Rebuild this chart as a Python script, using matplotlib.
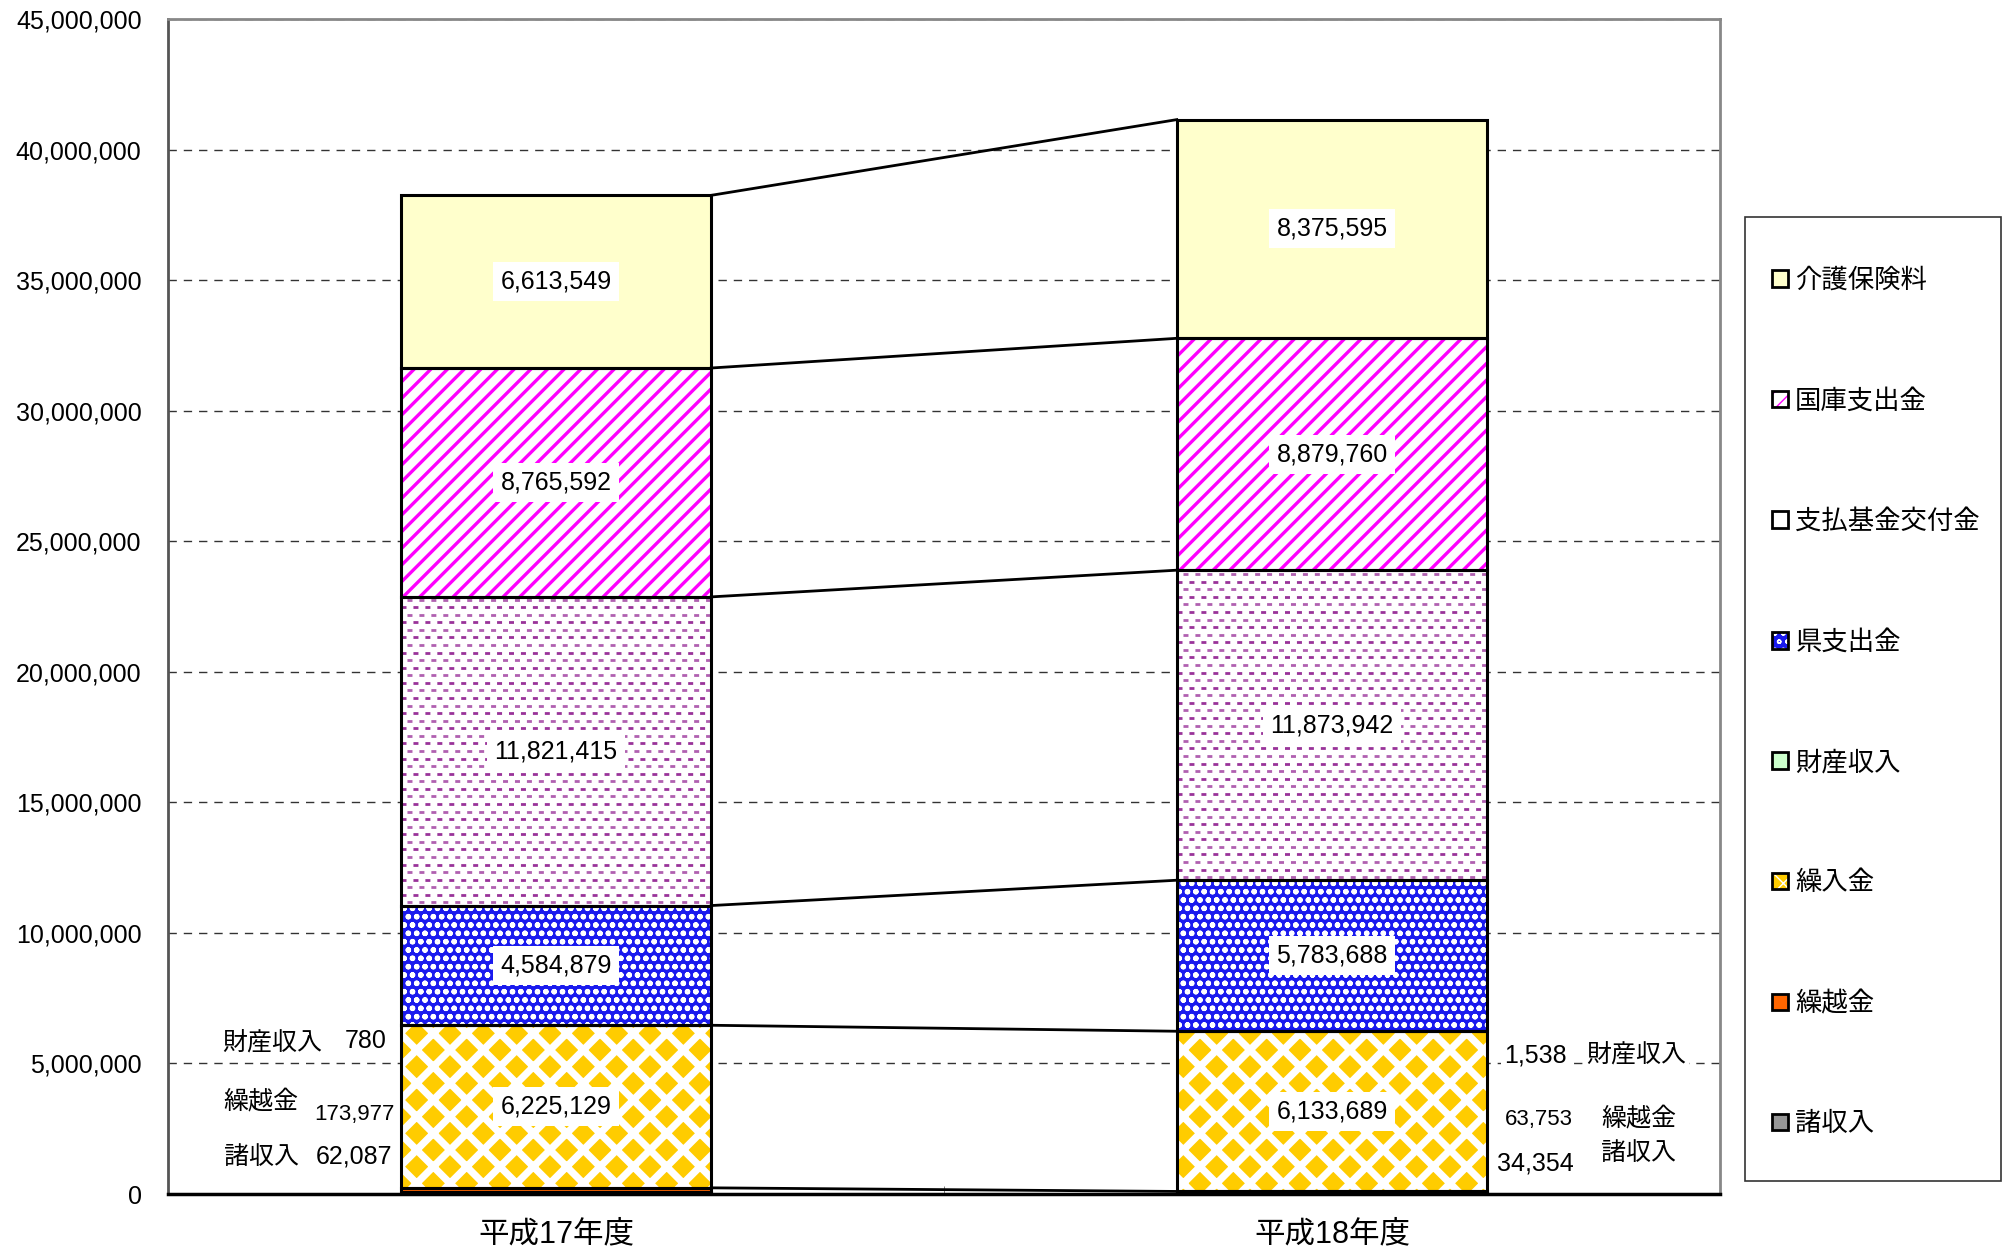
import matplotlib
matplotlib.use('Agg')
import matplotlib.pyplot as plt
from matplotlib.patches import Patch, Rectangle
from matplotlib.legend_handler import HandlerTuple
from matplotlib.ticker import FuncFormatter, FixedLocator

plt.rcParams['font.family'] = ['Liberation Sans', 'Noto Sans CJK JP', 'DejaVu Sans']
plt.rcParams['lines.scale_dashes'] = False

years = ['平成17年度', '平成18年度']
# bottom -> top
series = ['諸収入', '繰越金', '繰入金', '財産収入', '県支出金', '支払基金交付金', '国庫支出金', '介護保険料']
h17 = [62087, 173977, 6225129, 780, 4584879, 11821415, 8765592, 6613549]
h18 = [34354, 63753, 6133689, 1538, 5783688, 11873942, 8879760, 8375595]

# face, hatch, hatch colour
styles = {
    '諸収入': ('#969696', None, None),
    '繰越金': ('#ff6600', None, None),
    '繰入金': ('#ffcc00', 'x', 'white'),
    '財産収入': ('#ccffcc', None, None),
    '県支出金': ('#1a1aee', 'oo', 'white'),
    '支払基金交付金': ('white', None, None),
    '国庫支出金': ('white', '//', '#ff00ff'),
    '介護保険料': ('#ffffcc', None, None),
}
hatch_lw = {'繰入金': 5.2, '県支出金': 1.6, '国庫支出金': 2.4}
labelled = ['繰入金', '県支出金', '支払基金交付金', '国庫支出金', '介護保険料']

fig = plt.figure(figsize=(20.15, 12.51), dpi=100)
ax = fig.add_axes([168 / 2015, 1 - 1194 / 1251, (1720 - 168) / 2015, (1194 - 19) / 1251])

x = [0, 1]
w = 0.4
bottoms = [0, 0]
tops = []
handles = {}
for i, name in enumerate(series):
    vals = [h17[i], h18[i]]
    face, hatch, hcol = styles[name]
    fill = ax.bar(x, vals, w, bottom=bottoms, color=face, hatch=hatch,
                  edgecolor=hcol if hatch else face, linewidth=0, zorder=2)
    if hatch:
        for p in fill:
            p.set_hatch_linewidth(hatch_lw[name])
    ax.bar(x, vals, w, bottom=bottoms, fill=False, edgecolor='black', linewidth=2.2, zorder=4)
    hp = Patch(facecolor=face, hatch=hatch, edgecolor=hcol if hatch else face, linewidth=0)
    if hatch:
        hp.set_hatch_linewidth(1.5)
    handles[name] = (hp, Patch(fill=False, edgecolor='black', linewidth=2))
    if name == '支払基金交付金':
        # dashed purple rows
        for j in range(2):
            y = bottoms[j] + 120000
            k = 0
            while y < bottoms[j] + vals[j] - 100000:
                ax.hlines(y, x[j] - w / 2, x[j] + w / 2, colors='#993399' if k % 2 else '#b060b0',
                          linewidth=2, linestyles=[(0 if k % 2 else 4.3, (3.6, 5.0))], zorder=3)
                y += 290000
                k += 1
    if name in labelled:
        for j in range(2):
            ax.text(x[j], bottoms[j] + vals[j] / 2, f'{vals[j]:,}', ha='center', va='center',
                    fontsize=18, zorder=6,
                    bbox=dict(boxstyle='square,pad=0.3', fc='white', ec='none'))
    bottoms = [bottoms[0] + vals[0], bottoms[1] + vals[1]]
    if name in ('繰越金', '財産収入', '県支出金', '支払基金交付金', '国庫支出金', '介護保険料'):
        tops.append(list(bottoms))

# connecting lines between bar boundaries
for t in tops:
    ax.plot([x[0] + w / 2, x[1] - w / 2], t, color='black', linewidth=2, zorder=4)

ax.set_xlim(-0.5, 1.5)
ax.set_ylim(0, 45000000)
ax.set_yticks(range(0, 45000001, 5000000))
ax.yaxis.set_major_formatter(FuncFormatter(lambda v, p: f'{int(v):,}'))
ax.tick_params(axis='y', labelsize=18, length=0, pad=19)
ax.set_xticks(x)
ax.set_xticklabels(years, fontsize=22)
ax.tick_params(axis='x', length=0, pad=18)
ax.xaxis.set_minor_locator(FixedLocator([0.5]))
ax.tick_params(axis='x', which='minor', direction='in', length=6, color='#666666')
ax.grid(axis='y', linestyle=(0, (6, 5)), color='#333333', linewidth=1, zorder=0)
ax.set_axisbelow(True)
for s in ('top', 'right'):
    ax.spines[s].set_color('#888888')
    ax.spines[s].set_linewidth(2)
ax.spines['left'].set_color('#555555')
ax.spines['left'].set_linewidth(2)
ax.spines['bottom'].set_color('black')
ax.spines['bottom'].set_linewidth(2.5)

# side notes for the thin segments
notes = [
    (-0.366, 5760000, '財産収入', 18), (-0.245, 5860000, '780', 18),
    (-0.38, 3500000, '繰越金', 18), (-0.26, 3050000, '173,977', 16),
    (-0.38, 1430000, '諸収入', 18), (-0.26, 1430000, '62,087', 18),
    (1.262, 5320000, '1,538', 18), (1.392, 5320000, '財産収入', 18),
    (1.266, 2860000, '63,753', 16), (1.395, 2860000, '繰越金', 18),
    (1.262, 1180000, '34,354', 18), (1.395, 1580000, '諸収入', 18),
]
for nx, ny, txt, fs in notes:
    ax.text(nx, ny, txt, ha='center', va='center', fontsize=fs, zorder=6,
            bbox=dict(boxstyle='square,pad=0.1', fc='white', ec='none'))

# legend box
fig.patches.append(Rectangle((1745 / 2015, 1 - 1181 / 1251), 256 / 2015, 964 / 1251,
                             transform=fig.transFigure, fill=False,
                             edgecolor='#333333', linewidth=1.2))
order = series[::-1]
leg = fig.legend([handles[n] for n in order], order, loc='upper left',
                 bbox_to_anchor=(1772 / 2015, 1 - 268 / 1251), borderaxespad=0, borderpad=0,
                 handler_map={tuple: HandlerTuple(ndivide=1)},
                 fontsize=19, handlelength=0.6, handleheight=0.6, handletextpad=0.28,
                 labelspacing=3.63, frameon=False)

fig.savefig('out.png', dpi=100)
